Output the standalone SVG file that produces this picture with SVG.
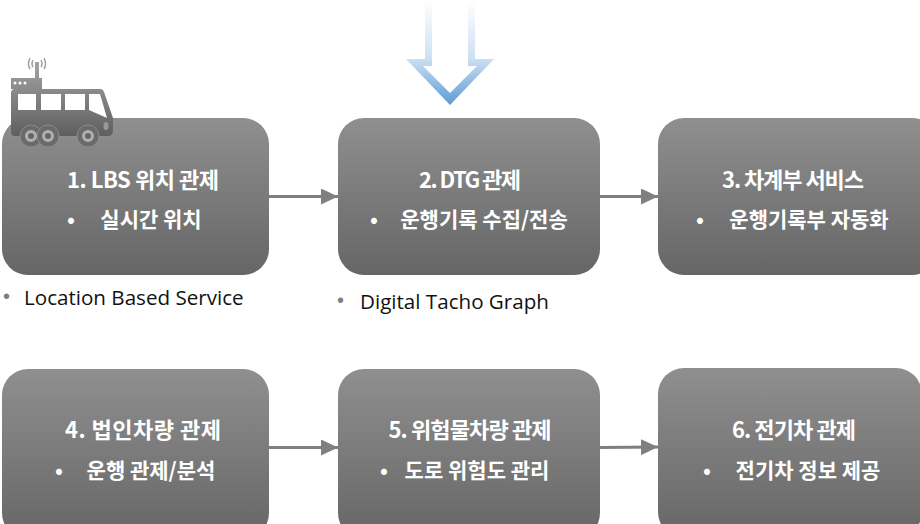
<svg xmlns="http://www.w3.org/2000/svg" width="920" height="524" viewBox="0 0 920 524">
<defs>
<linearGradient id="box" x1="0" y1="0" x2="0" y2="1"><stop offset="0" stop-color="#8f8f8f"/><stop offset="1" stop-color="#666"/></linearGradient>
<linearGradient id="bus" gradientUnits="userSpaceOnUse" x1="0" y1="58" x2="0" y2="146"><stop offset="0" stop-color="#a8a8a8"/><stop offset="1" stop-color="#555"/></linearGradient>
<linearGradient id="down" gradientUnits="userSpaceOnUse" x1="0" y1="0" x2="0" y2="105"><stop offset="0" stop-color="#fff"/><stop offset="0.55" stop-color="#cfe0f3"/><stop offset="1" stop-color="#5b9bd5"/></linearGradient>
<marker id="ah" markerUnits="userSpaceOnUse" markerWidth="17" markerHeight="16" refX="17" refY="8" orient="auto"><path d="M0 0L17 8L0 16Z" fill="#7f7f7f"/></marker>
</defs>
<style>
.b{fill:url(#box)}
.t{font-family:"Noto Sans CJK KR","Liberation Sans",sans-serif;font-size:22px;font-weight:700;fill:#fff;text-anchor:middle}
.d{font-family:"Noto Sans CJK KR","Liberation Sans",sans-serif;font-size:21px;font-weight:700;fill:#fff;text-anchor:middle}
.n{font-family:"Open Sans","Noto Sans",sans-serif;font-size:20.600px;fill:#111}
.g{font-family:"Liberation Sans",sans-serif;font-size:20px;fill:#7f7f7f}
.c{stroke:#7f7f7f;stroke-width:3;fill:none;marker-end:url(#ah)}
</style>
<g id="connectors">
<path class="c" d="M269 196.500H338"/>
<path class="c" d="M600 196.500H658"/>
<path class="c" d="M269 447.500H338"/>
<path class="c" d="M600 447.500L658 447"/>
</g>
<g id="big-arrow"><path d="M425 0V59H406L450 105L494 59H475V0H468V66H477L450 93L423 66H432V0Z" fill="url(#down)" fill-rule="evenodd"/></g>
<g id="node1"><rect class="b" x="2" y="118" width="267" height="157" rx="26"/>
<text class="t" x="143" y="187.500" textLength="152">1. LBS 위치 관제</text><text class="d" x="71" y="226.500">•</text><text class="d" x="151" y="226.500">실시간 위치</text></g>
<g id="node2"><rect class="b" x="338" y="118" width="262" height="157" rx="26"/>
<text class="t" x="470" y="187.500" textLength="102">2. DTG 관제</text><text class="d" x="374" y="226.500">•</text><text class="d" x="484" y="226.500">운행기록 수집/전송</text></g>
<g id="node3"><rect class="b" x="658" y="118" width="280" height="157" rx="26"/>
<text class="t" x="793" y="187.500" textLength="142">3. 차계부 서비스</text><text class="d" x="700" y="226.500">•</text><text class="d" x="809" y="226.500">운행기록부 자동화</text></g>
<g id="node4"><rect class="b" x="2" y="369" width="267" height="170" rx="26"/>
<text class="t" x="143" y="437.500" textLength="156">4. 법인차량 관제</text><text class="d" x="59" y="478">•</text><text class="d" x="151" y="478">운행 관제/분석</text></g>
<g id="node5"><rect class="b" x="338" y="369" width="262" height="170" rx="26"/>
<text class="t" x="470" y="437.500" textLength="163">5. 위험물차량 관제</text><text class="d" x="384" y="478">•</text><text class="d" x="477" y="478">도로 위험도 관리</text></g>
<g id="node6"><rect class="b" x="658" y="368" width="264" height="170" rx="26"/>
<text class="t" x="794" y="437.500" textLength="124">6. 전기차 관제</text><text class="d" x="707" y="478">•</text><text class="d" x="808" y="478">전기차 정보 제공</text></g>
<g id="bus-icon">
<path fill="url(#bus)" fill-rule="evenodd" d="M15 89H100Q103 89 104 92L113 118V130Q113 136 108 136H15Q11 136 11 132V93Q11 89 15 89ZM18 94V110H36V94ZM41 94V110H61V94ZM65 94V110H85V94ZM89 94V110L107 118L100 94Z"/>
<rect x="11" y="78" width="31" height="11" fill="url(#bus)"/>
<rect x="35" y="62" width="4" height="16" fill="url(#bus)"/>
<path d="M30 58Q27 64 30 69M33 60Q31 64 33 67M41 60Q43 64 41 67M44 58Q47 64 44 69" stroke="#a0a0a0" stroke-width="1.500" fill="none"/>
<g fill="#fff"><circle cx="15" cy="83" r="1.500"/><circle cx="20" cy="83" r="1.500"/><circle cx="25" cy="83" r="1.500"/></g>
<g fill="#6a6a6a" stroke="#8c8c8c" stroke-width="1"><circle cx="31" cy="136" r="11"/><circle cx="48" cy="136" r="11"/><circle cx="88" cy="136" r="11"/></g>
<g fill="#666" stroke="#b0b0b0" stroke-width="3"><circle cx="31" cy="136" r="4.500"/><circle cx="48" cy="136" r="4.500"/><circle cx="88" cy="136" r="4.500"/></g>
<ellipse cx="106" cy="126" rx="2.500" ry="4" fill="#999"/>
</g>
<g id="note1"><text class="g" x="3" y="303">•</text><text class="n" x="24" y="305">Location Based Service</text></g>
<g id="note2"><text class="g" x="337" y="307">•</text><text class="n" x="360" y="309">Digital Tacho Graph</text></g>
</svg>
